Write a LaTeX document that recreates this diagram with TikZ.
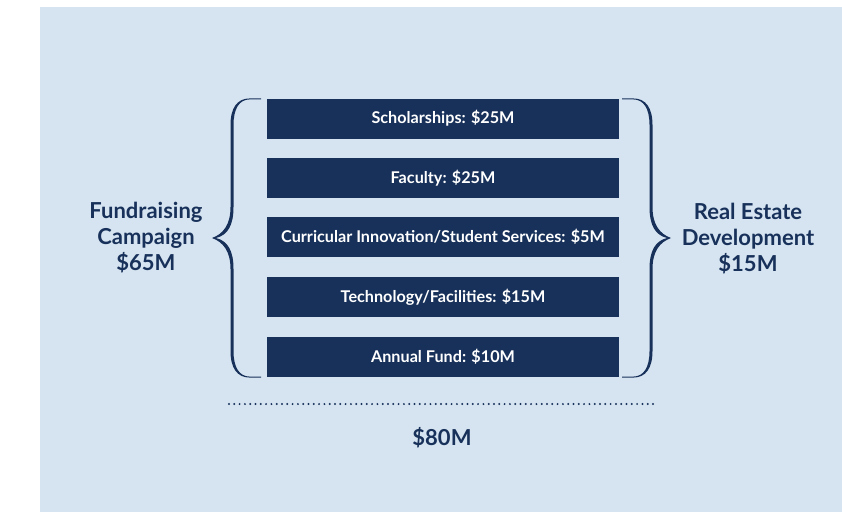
\documentclass[tikz,border=0pt]{standalone}
\usepackage{fontspec}
\setmainfont{Lato}
\definecolor{navy}{RGB}{24,49,90}
\definecolor{bgblue}{RGB}{214,228,241}
\tikzset{
  itembox/.style={fill=navy, text=white, minimum width=352pt, minimum height=40pt, inner sep=0pt,
    font=\fontsize{16.2}{19}\selectfont\bfseries},
  sidelabel/.style={text=navy, align=center, inner sep=0pt,
    font=\fontsize{22}{26}\selectfont\bfseries},
  bracepic/.pic={
    \fill[navy] (0,-0.6) -- (-11,-0.6) .. controls (-24,-0.6) and (-30.5,9) .. (-30.5,26)
      -- (-30.5,108) .. controls (-30.5,126) and (-38,135) .. (-49,139)
      .. controls (-38,143) and (-30.5,152) .. (-30.5,170)
      -- (-30.5,252) .. controls (-30.5,269) and (-24,278.6) .. (-11,278.6) -- (0,278.6)
      -- (0,277.6) -- (-11,277.6) .. controls (-22,277.6) and (-27.5,268) .. (-27.5,252)
      -- (-27.5,170) .. controls (-27.5,152) and (-33,142) .. (-45,139)
      .. controls (-33,136) and (-27.5,126) .. (-27.5,108)
      -- (-27.5,26) .. controls (-27.5,10) and (-22,0.4) .. (-11,0.4) -- (0,0.4) -- cycle;
  }
}
\begin{document}
\begin{tikzpicture}[x=1pt,y=-1pt]
\useasboundingbox (0,0) rectangle (842,512);
\fill[white] (0,0) rectangle (842,512);
\fill[bgblue] (40,7) rectangle (842,512);

\node[itembox] (b1) at (443,118.5) {Scholarships: \$25M};
\node[itembox] (b2) at (443,178) {Faculty: \$25M};
\node[itembox] (b3) at (443,237) {Curricular Innovation/Student Services: \$5M};
\node[itembox] (b4) at (443,297) {Technology/Facilities: \$15M};
\node[itembox] (b5) at (443,357) {Annual Fund: \$10M};

\pic at (261,99) {bracepic};
\pic[xscale=-1] at (622,99) {bracepic};

\node[sidelabel] (fund) at (146,238) {Fundraising\\Campaign\\\$65M};
\node[sidelabel] (real) at (748,239) {Real Estate\\Development\\\$15M};

\coordinate (dl) at (229,404);
\coordinate (dr) at (653,404);
\draw[navy, line width=2.2pt, line cap=round, dash pattern=on 0pt off 5.3pt] (dl) -- (dr);

\node[sidelabel] (total) at (442,438) {\$80M};
\end{tikzpicture}
\end{document}
